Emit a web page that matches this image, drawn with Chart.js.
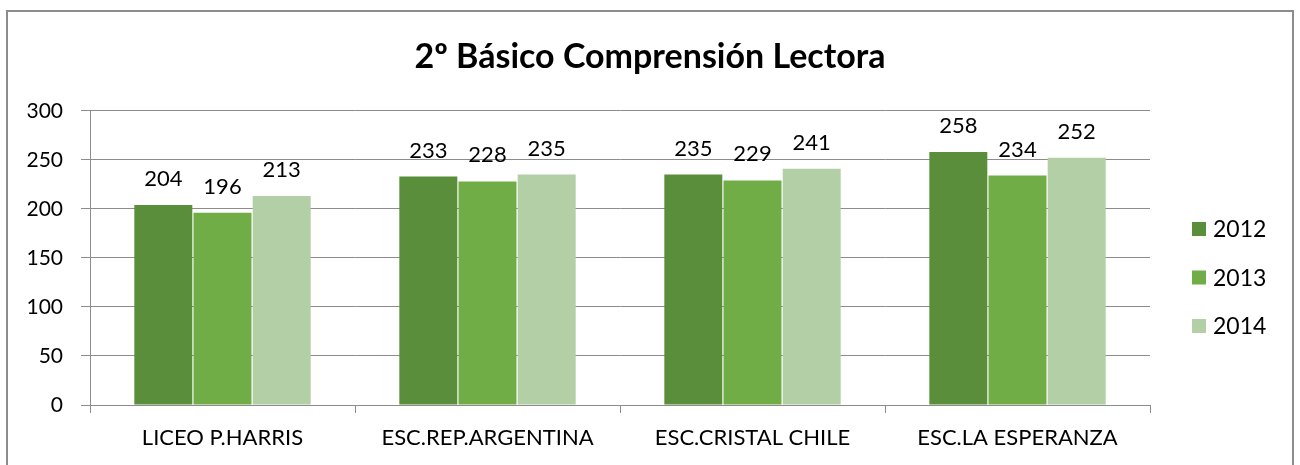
<!DOCTYPE html>
<html lang="es">
<head>
  <meta charset="UTF-8">
  <title>2º Básico Comprensión Lectora</title>
  <script src="https://cdn.jsdelivr.net/npm/chart.js"></script>
  <style>
    body {
      margin: 0;
      background: #fff;
    }
    #wrap {
      width: 1300px;
      height: 465px;
      position: relative;
    }
  </style>
</head>
<body>
  <div id="wrap">
    <canvas id="chart" width="1300" height="465"></canvas>
  </div>

  <script>
    const schools = ["LICEO P.HARRIS", "ESC.REP.ARGENTINA", "ESC.CRISTAL CHILE", "ESC.LA ESPERANZA"];
    const years = ["2012", "2013", "2014"];
    const scores2012 = [204, 233, 235, 258];
    const scores2013 = [196, 228, 229, 234];
    const scores2014 = [213, 235, 241, 252];
    const yTicks = [0, 50, 100, 150, 200, 250, 300];

    const colors = ["#5B8E3A", "#70AD47", "#B3CFA5"];
    const font = "Lato, 'Open Sans', sans-serif";

    // values above each bar
    const valueLabels = {
      id: 'valueLabels',
      afterDatasetsDraw(chart) {
        const ctx = chart.ctx;
        ctx.save();
        ctx.font = "22px " + font;
        ctx.fillStyle = "#000";
        ctx.textAlign = "center";
        ctx.textBaseline = "alphabetic";
        chart.data.datasets.forEach((ds, i) => {
          chart.getDatasetMeta(i).data.forEach((bar, j) => {
            ctx.fillText(ds.data[j], bar.x, bar.y - 19);
          });
        });
        ctx.restore();
      }
    };

    // legend on the right + outer frame
    const sideLegend = {
      id: 'sideLegend',
      afterDraw(chart) {
        const ctx = chart.ctx;
        ctx.save();
        ctx.font = "23px " + font;
        ctx.textBaseline = "middle";
        chart.data.datasets.forEach((ds, i) => {
          const y = 229 + i * 48.5;
          ctx.fillStyle = ds.backgroundColor;
          ctx.fillRect(1192, y - 7, 14, 14);
          ctx.fillStyle = "#000";
          ctx.fillText(ds.label, 1213, y + 1);
        });
        ctx.strokeStyle = "#8c8c8c";
        ctx.lineWidth = 2;
        ctx.strokeRect(7, 11, 1286, 460);
        ctx.restore();
      }
    };

    new Chart(document.getElementById("chart"), {
      type: 'bar',
      data: {
        labels: schools,
        datasets: [
          { label: years[0], data: scores2012, backgroundColor: colors[0] },
          { label: years[1], data: scores2013, backgroundColor: colors[1] },
          { label: years[2], data: scores2014, backgroundColor: colors[2] }
        ]
      },
      options: {
        responsive: false,
        animation: false,
        layout: { padding: { left: 20, right: 20, top: 0, bottom: 10 } },
        datasets: {
          bar: { categoryPercentage: 0.67, barPercentage: 0.98 }
        },
        scales: {
          x: {
            afterFit: s => { s.height = 50; },
            grid: {
              offset: true,
              drawOnChartArea: false,
              drawTicks: true,
              tickLength: 8,
              color: "#8c8c8c"
            },
            border: { color: "#8c8c8c" },
            ticks: { color: "#000", font: { family: font, size: 22 }, padding: 12 }
          },
          y: {
            min: 0,
            max: 300,
            afterFit: s => { s.width = 70; },
            afterBuildTicks: s => { s.ticks = yTicks.map(v => ({ value: v })); },
            grid: { color: "#8c8c8c", tickLength: 9 },
            border: { color: "#8c8c8c" },
            ticks: { color: "#000", font: { family: font, size: 21 }, padding: 18 }
          },
          // empty right axis: keeps room for the legend
          side: {
            position: 'right',
            afterFit: s => { s.width = 130; },
            grid: { display: false },
            border: { display: false },
            ticks: { display: false }
          }
        },
        plugins: {
          legend: { display: false },
          tooltip: { enabled: false },
          title: {
            display: true,
            text: "2º Básico Comprensión Lectora",
            color: "#000",
            font: { family: font, size: 34, weight: "bold" },
            padding: { top: 37, bottom: 33 }
          }
        }
      },
      plugins: [valueLabels, sideLegend]
    });
  </script>
</body>
</html>
